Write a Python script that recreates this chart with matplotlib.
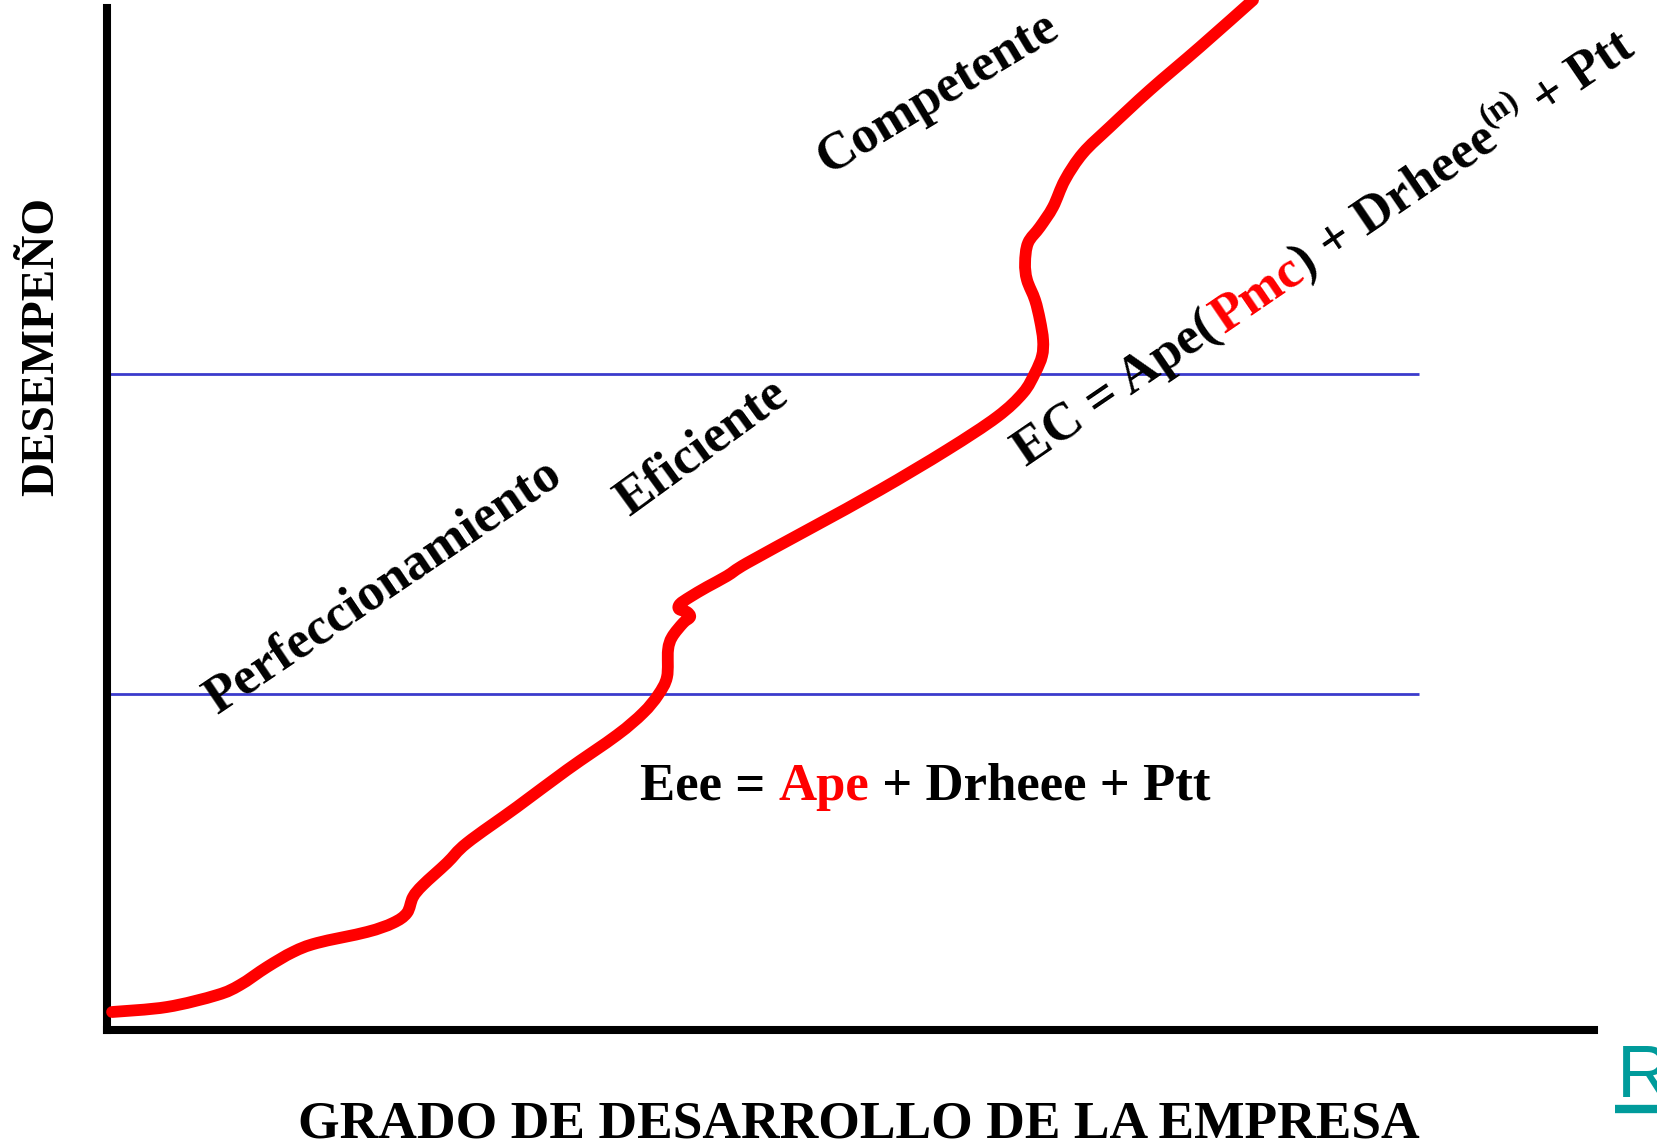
import matplotlib
matplotlib.use("Agg")
import matplotlib.pyplot as plt
import numpy as np
from matplotlib.font_manager import FontProperties, findfont
from matplotlib.ft2font import FT2Font
from matplotlib.lines import Line2D
from matplotlib.path import Path
from matplotlib.patches import PathPatch

# ---------------- data ----------------
# grado de desarrollo (x, 0-100) and desempeño (y, 0-100) of the red curve
grado = [0.34, 4.03, 7.40, 8.94, 10.76, 12.51, 14.12, 17.48, 19.23, 20.17, 20.58,
         21.25, 22.86, 24.21, 27.57, 30.93, 34.30, 36.05, 37.06, 37.66, 37.73,
         38.00, 38.74, 39.21, 39.00, 38.47, 38.53, 39.21, 40.35, 41.69, 43.04,
         47.48, 51.98, 56.49, 59.85, 61.60, 62.41, 62.88, 62.95, 62.74, 62.41,
         61.87, 61.74, 61.94, 62.74, 63.62, 64.42, 65.64, 67.45, 70.14, 73.50,
         77.07]
desempeno = [1.76, 2.25, 3.42, 4.40, 6.16, 7.63, 8.51, 9.59, 10.47, 11.45, 13.01,
             14.19, 16.34, 18.30, 21.82, 25.44, 28.86, 31.02, 32.78, 34.54, 37.18,
             38.45, 39.82, 40.41, 40.90, 41.19, 41.68, 42.37, 43.35, 44.42, 45.69,
             49.22, 52.84, 56.75, 59.98, 62.33, 64.29, 65.95, 67.51, 69.47, 71.43,
             73.39, 75.05, 77.01, 78.57, 80.53, 83.17, 85.81, 88.36, 91.98, 96.18,
             100.78]
umbrales = [32.88, 64.19]          # blue threshold lines (desempeño)
umbral_fin = 88.2                  # blue lines end (grado)

etiquetas = ["Perfeccionamiento", "Eficiente", "Competente"]
x_label = "GRADO DE DESARROLLO DE LA EMPRESA"
y_label = "DESEMPEÑO"

# ---------------- figure ----------------
W, H = 1657, 1144
fig = plt.figure(figsize=(W / 100, H / 100), dpi=100)
SERIF = ["Liberation Serif", "DejaVu Serif"]
SANS = ["Liberation Sans", "DejaVu Sans"]
RED = "#ff0000"
BLUE = "#3b3bcc"

ax = fig.add_axes([107 / W, (H - 1030) / H, (1594 - 107) / W, (1030 - 8) / H])
ax.set_xlim(0, 100)
ax.set_ylim(0, 100)
for s in ["top", "right"]:
    ax.spines[s].set_visible(False)
for s in ["left", "bottom"]:
    ax.spines[s].set_linewidth(5.8)
    ax.spines[s].set_color("black")
    ax.spines[s].set_capstyle("projecting")
ax.set_xticks([])
ax.set_yticks([])
ax.patch.set_alpha(0)

for u in umbrales:
    ax.hlines(u, 0, umbral_fin, color=BLUE, lw=2.0, zorder=2)

# smooth rendering of the read points: Catmull-Rom segments as cubic Beziers
P = np.column_stack([grado, desempeno])
verts = [P[0]]
codes = [Path.MOVETO]
n = len(P)
for i in range(n - 1):
    p0 = P[i - 1] if i > 0 else P[i]
    p1, p2 = P[i], P[i + 1]
    p3 = P[i + 2] if i + 2 < n else P[i + 1]
    c1 = p1 + (p2 - p0) / 6.0
    c2 = p2 - (p3 - p1) / 6.0
    verts += [c1, c2, p2]
    codes += [Path.CURVE4] * 3
curve = PathPatch(Path(verts, codes), fill=False, edgecolor=RED, lw=8.5,
                  capstyle="round", joinstyle="round", clip_on=False, zorder=3)
ax.add_patch(curve)

# ---------------- text helpers ----------------
font_path = findfont(FontProperties(family=SERIF, weight="bold"))
ft = FT2Font(font_path)


def advance(s, size):
    ft.set_size(size, 100)
    tot = 0.0
    for c in s:
        g = ft.load_char(ord(c))
        tot += g.linearHoriAdvance / 65536.0
    return tot


def rich_text(x0, y0, pieces, angle, size):
    """x0, y0 in pixel coords (y downward): baseline-left of the text."""
    th = np.deg2rad(angle)
    d = np.array([np.cos(th), np.sin(th)])
    nrm = np.array([-np.sin(th), np.cos(th)])
    X0, Y0 = x0, H - y0
    off = 0.0
    em = size * 100 / 72
    for s, color, scale, rise in pieces:
        fs = size * scale
        px = X0 + off * d[0] + rise * em * nrm[0]
        py = Y0 + off * d[1] + rise * em * nrm[1]
        fig.text(px / W, py / H, s, fontsize=fs, color=color, rotation=angle,
                 rotation_mode="anchor", ha="left", va="baseline",
                 family=SERIF, fontweight="bold")
        off += advance(s, fs)


FS = 38
K = "black"

# rotated stage labels
rich_text(217, 715, [(etiquetas[0], K, 1, 0)], 34, FS)
rich_text(629, 517, [(etiquetas[1], K, 1, 0)], 36, FS)
rich_text(828, 175, [(etiquetas[2], K, 1, 0)], 31, FS)

# formula EC
rich_text(1027, 468, [("EC = Ape(", K, 1, 0), ("Pmc", RED, 1, 0),
                      (") + Drheee", K, 1, 0), ("(n)", K, 0.62, 0.42),
                      (" + Ptt", K, 1, 0)], 34.3, FS)

# formula Eee
rich_text(640, 800, [("Eee = ", K, 1, 0), ("Ape", RED, 1, 0),
                     (" + Drheee + Ptt", K, 1, 0)], 0, FS)

# axis titles
fig.text(859 / W, (H - 1137) / H, x_label, fontsize=38.5, fontweight="bold",
         family=SERIF, ha="center", va="baseline")
fig.text(53 / W, (H - 347) / H, y_label, fontsize=34, fontweight="bold",
         family=SERIF, ha="center", va="baseline", rotation=90,
         rotation_mode="anchor")

# teal "R" link fragment bottom right
TEAL = "#009b9b"
fig.text(1617 / W, (H - 1097) / H, "R", fontsize=54, color=TEAL,
         family=SANS, ha="left", va="baseline")
fig.add_artist(Line2D([1615 / W, 1.0], [(H - 1109) / H] * 2, color=TEAL,
                      lw=6, transform=fig.transFigure, solid_capstyle="butt"))

fig.savefig("out.png", dpi=100)
